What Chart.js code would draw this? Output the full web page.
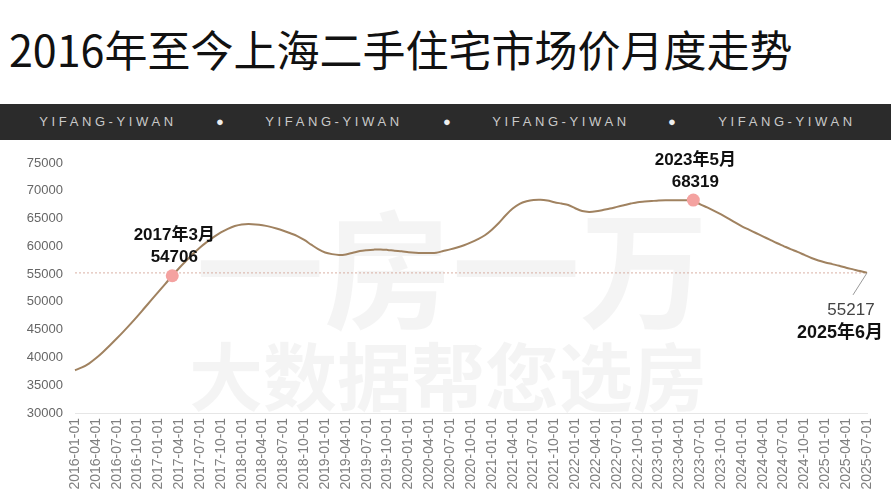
<!DOCTYPE html>
<html>
<head>
<meta charset="utf-8">
<script src="https://cdn.jsdelivr.net/npm/chart.js@4"></script>
<style>
  body { margin: 0; background: #fff; width: 891px; height: 500px; overflow: hidden; position: relative; }
  .title {
    position: absolute; left: 9px; top: 19px;
    font: 43px "Noto Sans CJK SC", sans-serif; line-height: 58px; color: #111; white-space: nowrap;
  }
  .banner {
    position: absolute; left: 0; top: 104px; width: 891px; height: 36px; background: #2b2b2b;
  }
  .banner span {
    position: absolute; top: 0; transform: translateX(-50%);
    color: #c9c9c9; font: 13px "Liberation Sans", sans-serif; line-height: 36px;
    letter-spacing: 3.6px; white-space: nowrap;
  }
  .banner span.dot { letter-spacing: 0; color: #eee; }
  canvas { position: absolute; left: 0; top: 140px; }
</style>
</head>
<body>
<div class="title">2016年至今上海二手住宅市场价月度走势</div>
<div class="banner">
  <span style="left:108px">YIFANG-YIWAN</span><span class="dot" style="left:220px">●</span>
  <span style="left:334px">YIFANG-YIWAN</span><span class="dot" style="left:447px">●</span>
  <span style="left:561px">YIFANG-YIWAN</span><span class="dot" style="left:672px">●</span>
  <span style="left:787px">YIFANG-YIWAN</span>
</div>
<canvas id="chart" width="891" height="360"></canvas>
<script>
// monthly points, 2016-01-01 .. 2025-07-01
const months = [];
for (let y = 2016; y <= 2025; y++) {
  for (let m = 1; m <= 12; m++) {
    if (y === 2025 && m > 7) break;
    months.push(y + "-" + String(m).padStart(2, "0") + "-01");
  }
}

// price, yuan per sqm
const prices = [
  37700, 38200, 38900, 39850, 40950, 42150, 43400, 44700, 46050, 47450, 48900, 50350,
  51800, 53250, 54706, 56100, 57400, 58650, 59800, 60800, 61700, 62500, 63150, 63650,
  63950, 64000, 63950, 63800, 63550, 63200, 62800, 62350, 61850, 61150, 60300, 59500,
  58900, 58600, 58450, 58550, 58850, 59150, 59300, 59400, 59450, 59350, 59200, 59100,
  58950, 58850, 58800, 58800, 58850, 59150, 59450, 59800, 60200, 60700, 61300, 62000,
  63000, 64200, 65600, 66800, 67650, 68100, 68350, 68400, 68250, 67950, 67700, 67450,
  66850, 66350, 66200, 66300, 66550, 66800, 67100, 67400, 67700, 67950, 68050, 68150,
  68250, 68300, 68300, 68300, 68280, 68319, 67550, 67000, 66400, 65750, 65050, 64300,
  63600, 63000, 62400, 61800, 61200, 60600, 60050, 59500, 59000, 58450, 57900, 57450,
  57100, 56800, 56500, 56150, 55850, 55550, 55217
];

const yTicks = [30000, 35000, 40000, 45000, 50000, 55000, 60000, 65000, 70000, 75000];

// highlighted points: index in prices, label lines
const marks = [
  { idx: 14, lines: ["2017年3月", "54706"] },
  { idx: 89, lines: ["2023年5月", "68319"] }
];
const lastIdx = prices.length - 1;
const lastLabel = ["55217", "2025年6月"];

const refLine = prices.map(() => prices[lastIdx]);

const watermark = {
  id: "watermark",
  beforeDatasetsDraw(chart) {
    const c = chart.ctx;
    c.save();
    c.fillStyle = "rgba(0,0,0,0.045)";
    c.textAlign = "center";
    c.textBaseline = "middle";
    c.font = "bold 128px 'Noto Sans CJK SC'";
    c.fillText("一房一万", 452, 130);
    c.font = "bold 74px 'Noto Sans CJK SC'";
    c.fillText("大数据帮您选房", 448, 237);
    c.restore();
  }
};

const notes = {
  id: "notes",
  afterDatasetsDraw(chart) {
    const c = chart.ctx;
    const xs = chart.scales.x, ys = chart.scales.y;
    c.save();
    c.textAlign = "center";
    c.textBaseline = "middle";
    c.fillStyle = "#111";
    c.font = "bold 17px 'Liberation Sans', 'Noto Sans CJK SC'";
    marks.forEach(mk => {
      const px = xs.getPixelForValue(mk.idx);
      const py = ys.getPixelForValue(prices[mk.idx]);
      c.fillText(mk.lines[0], px + 2, py - 40);
      c.fillText(mk.lines[1], px + 2, py - 18);
    });
    const ex = xs.getPixelForValue(lastIdx);
    const ey = ys.getPixelForValue(prices[lastIdx]);
    c.strokeStyle = "#999";
    c.lineWidth = 1;
    c.beginPath();
    c.moveTo(ex, ey);
    c.lineTo(ex - 14, ey + 22);
    c.stroke();
    c.fillStyle = "#444";
    c.font = "17px 'Liberation Sans'";
    c.fillText(lastLabel[0], ex - 16, ey + 37);
    c.fillStyle = "#111";
    c.font = "bold 18px 'Liberation Sans', 'Noto Sans CJK SC'";
    c.fillText(lastLabel[1], ex - 27, ey + 60);
    c.restore();
  }
};

new Chart(document.getElementById("chart"), {
  type: "line",
  data: {
    labels: months,
    datasets: [
      {
        data: prices,
        borderColor: "#a08260",
        borderWidth: 2,
        tension: 0.3,
        pointRadius: ctx => marks.some(m => m.idx === ctx.dataIndex) ? 6.5 : 0,
        pointBackgroundColor: "#f4a2a0",
        pointBorderWidth: 0
      },
      {
        data: refLine,
        borderColor: "rgba(205,150,135,0.75)",
        borderWidth: 1,
        borderDash: [2, 2],
        pointRadius: 0
      }
    ]
  },
  options: {
    responsive: false,
    animation: false,
    layout: { padding: { top: 23, right: 24, left: 0, bottom: 0 } },
    plugins: { legend: { display: false }, tooltip: { enabled: false } },
    scales: {
      x: {
        grid: { display: false, drawTicks: false },
        border: { display: true, color: "#e6e6e6", width: 1 },
        ticks: {
          autoSkip: false,
          minRotation: 90,
          maxRotation: 90,
          padding: 5,
          color: "#808080",
          font: { family: "Liberation Sans", size: 14 },
          callback: (v, i) => (i % 3 === 0 ? months[i] : null)
        },
        afterFit: s => { s.height = 87; }
      },
      y: {
        min: yTicks[0],
        max: yTicks[yTicks.length - 1],
        grid: { display: false, drawTicks: false },
        border: { display: false },
        afterBuildTicks: s => { s.ticks = yTicks.map(v => ({ value: v })); },
        ticks: {
          padding: 12,
          color: "#666",
          font: { family: "Liberation Sans", size: 13 },
          callback: v => String(v)
        },
        afterFit: s => { s.width = 75; }
      }
    }
  },
  plugins: [watermark, notes]
});
</script>
</body>
</html>
